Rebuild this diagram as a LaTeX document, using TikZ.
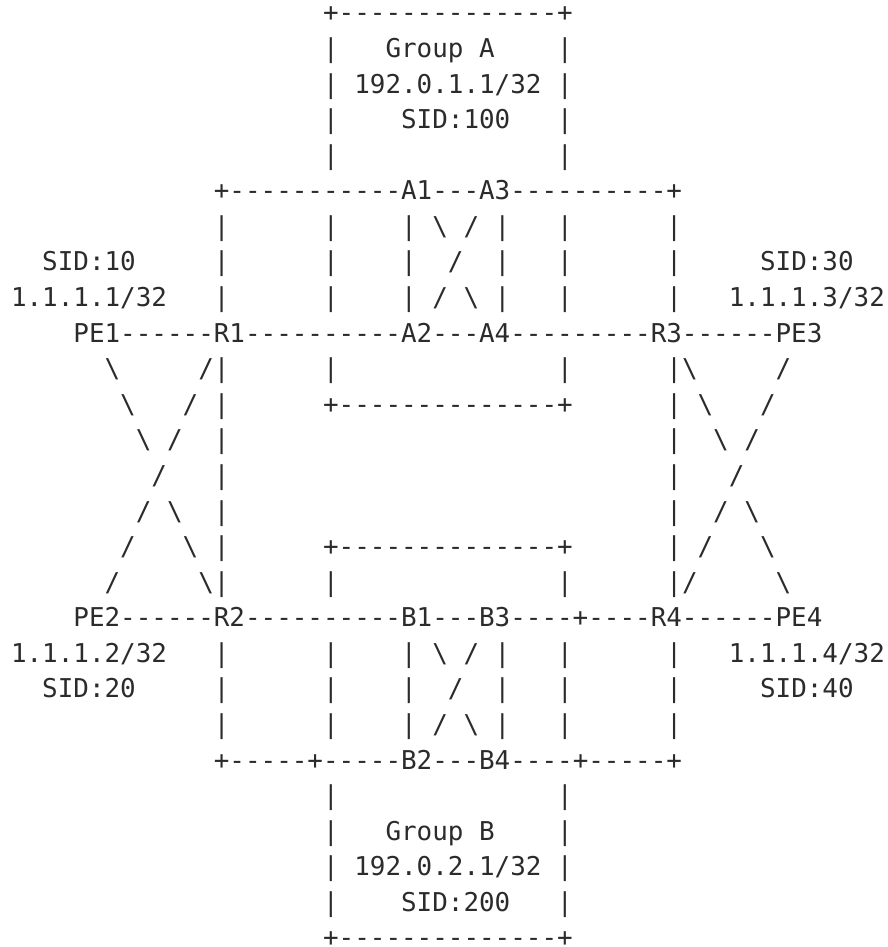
\documentclass[tikz,border=0pt]{standalone}
\usepackage{fontspec}
\setmonofont{DejaVu Sans Mono}
\definecolor{asciiink}{HTML}{2B2B2B}
\newlength{\cw}
\newcommand{\gap}[1]{\settowidth{\cw}{0}\hspace*{#1\cw}}
\newcommand{\bs}{\textbackslash}
\frenchspacing

\begin{document}
\begin{tikzpicture}[x=1pt,y=1pt,yscale=-1,
  row/.style={anchor=base west, inner sep=0pt, outer sep=0pt, text=asciiink,
    font=\fontsize{25.92}{35.58}\selectfont\ttfamily}]
\useasboundingbox (0,0) rectangle (887,947);

% Group A box
\node[row] (r01) at (11,21.90)  {\gap{20}+--------------+};
\node[row] (r02) at (11,57.48)  {\gap{20}|\gap{3}Group\gap{1}A\gap{4}|};
\node[row] (r03) at (11,93.06)  {\gap{20}|\gap{1}192.0.1.1/32\gap{1}|};
\node[row] (r04) at (11,128.64) {\gap{20}|\gap{4}SID:100\gap{3}|};
\node[row] (r05) at (11,164.22) {\gap{20}|\gap{14}|};
% A1 A3 row
\node[row] (r06) at (11,199.80) {\gap{13}+-----------A1---A3----------+};
\node[row] (r07) at (11,235.38) {\gap{13}|\gap{6}|\gap{4}|\gap{1}\bs\gap{1}/\gap{1}|\gap{3}|\gap{6}|};
\node[row] (r08) at (11,270.96) {\gap{2}SID:10\gap{5}|\gap{6}|\gap{4}|\gap{2}/\gap{2}|\gap{3}|\gap{6}|\gap{5}SID:30};
\node[row] (r09) at (11,306.54) {1.1.1.1/32\gap{3}|\gap{6}|\gap{4}|\gap{1}/\gap{1}\bs\gap{1}|\gap{3}|\gap{6}|\gap{3}1.1.1.3/32};
% PE1 R1 A2 A4 R3 PE3
\node[row] (r10) at (11,342.12) {\gap{4}PE1------R1----------A2---A4---------R3------PE3};
\node[row] (r11) at (11,377.70) {\gap{6}\bs\gap{5}/|\gap{6}|\gap{14}|\gap{6}|\bs\gap{5}/};
\node[row] (r12) at (11,413.28) {\gap{7}\bs\gap{3}/\gap{1}|\gap{6}+--------------+\gap{6}|\gap{1}\bs\gap{3}/};
\node[row] (r13) at (11,448.86) {\gap{8}\bs\gap{1}/\gap{2}|\gap{28}|\gap{2}\bs\gap{1}/};
\node[row] (r14) at (11,484.44) {\gap{9}/\gap{3}|\gap{28}|\gap{3}/};
\node[row] (r15) at (11,520.02) {\gap{8}/\gap{1}\bs\gap{2}|\gap{28}|\gap{2}/\gap{1}\bs};
\node[row] (r16) at (11,555.60) {\gap{7}/\gap{3}\bs\gap{1}|\gap{6}+--------------+\gap{6}|\gap{1}/\gap{3}\bs};
\node[row] (r17) at (11,591.18) {\gap{6}/\gap{5}\bs|\gap{6}|\gap{14}|\gap{6}|/\gap{5}\bs};
% PE2 R2 B1 B3 R4 PE4
\node[row] (r18) at (11,626.76) {\gap{4}PE2------R2----------B1---B3----+----R4------PE4};
\node[row] (r19) at (11,662.34) {1.1.1.2/32\gap{3}|\gap{6}|\gap{4}|\gap{1}\bs\gap{1}/\gap{1}|\gap{3}|\gap{6}|\gap{3}1.1.1.4/32};
\node[row] (r20) at (11,697.92) {\gap{2}SID:20\gap{5}|\gap{6}|\gap{4}|\gap{2}/\gap{2}|\gap{3}|\gap{6}|\gap{5}SID:40};
\node[row] (r21) at (11,733.50) {\gap{13}|\gap{6}|\gap{4}|\gap{1}/\gap{1}\bs\gap{1}|\gap{3}|\gap{6}|};
% B2 B4 row
\node[row] (r22) at (11,769.08) {\gap{13}+-----+-----B2---B4----+-----+};
% Group B box
\node[row] (r23) at (11,804.66) {\gap{20}|\gap{14}|};
\node[row] (r24) at (11,840.24) {\gap{20}|\gap{3}Group\gap{1}B\gap{4}|};
\node[row] (r25) at (11,875.82) {\gap{20}|\gap{1}192.0.2.1/32\gap{1}|};
\node[row] (r26) at (11,911.40) {\gap{20}|\gap{4}SID:200\gap{3}|};
\node[row] (r27) at (11,946.98) {\gap{20}+--------------+};
\end{tikzpicture}
\end{document}
